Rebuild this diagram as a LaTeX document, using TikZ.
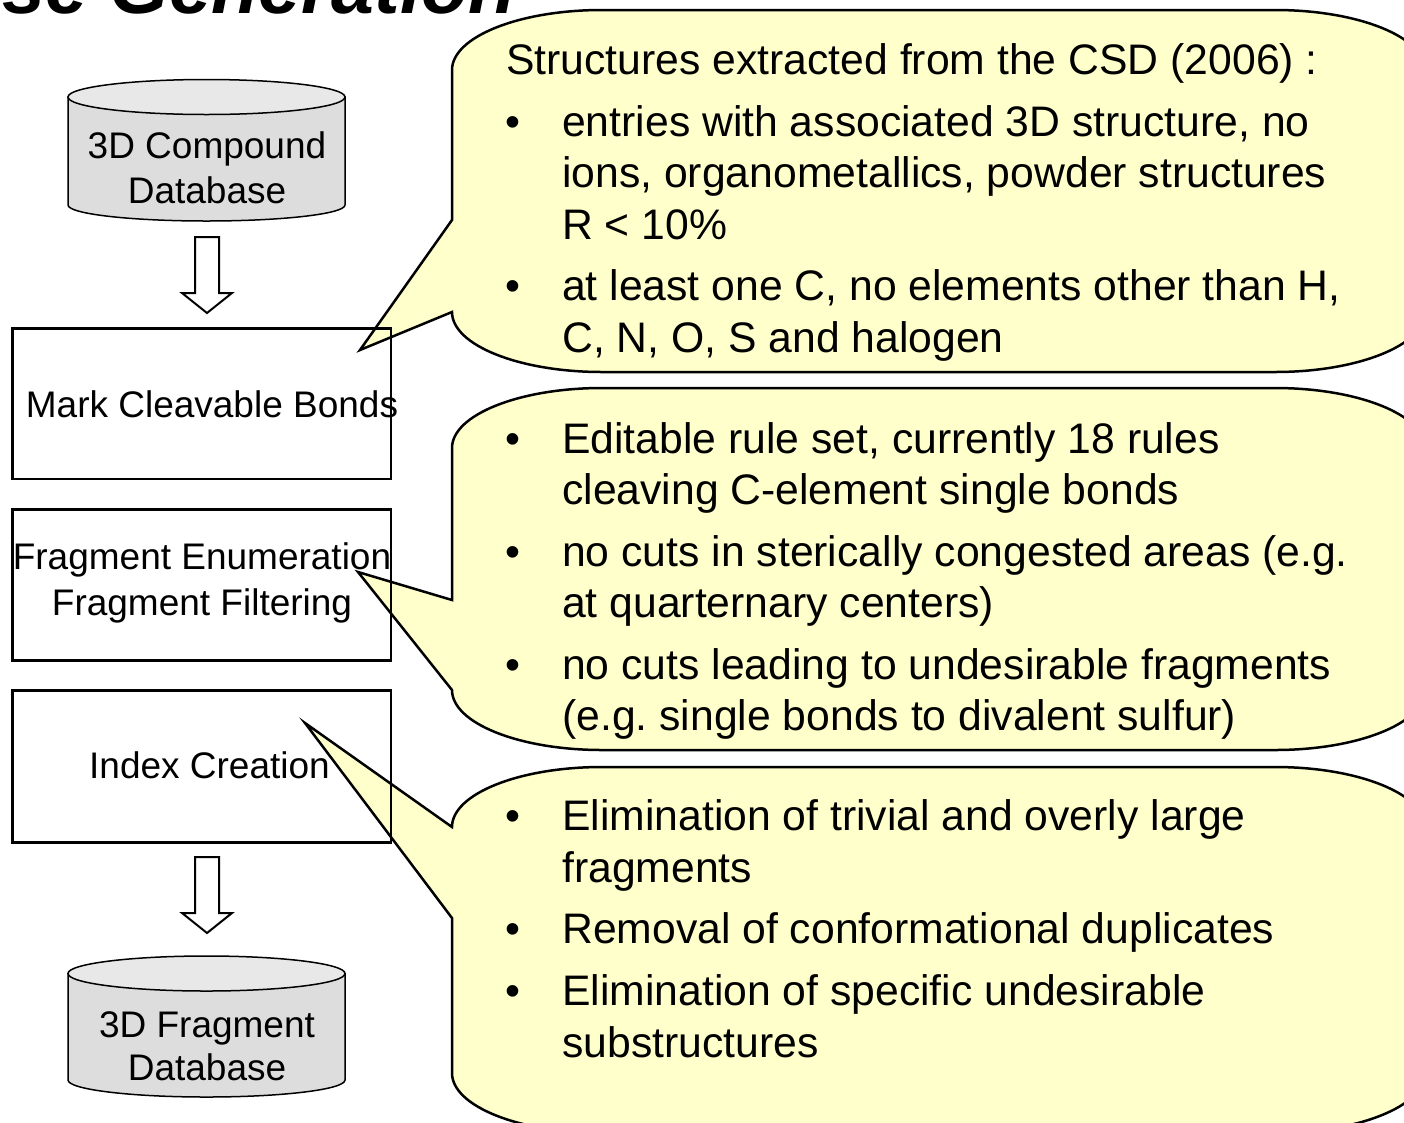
\documentclass[tikz,border=0pt]{standalone}
\usepackage{fontspec}
\setmainfont{Liberation Sans}
\frenchspacing
\definecolor{callfill}{HTML}{FFFFCC}
\definecolor{cylbody}{HTML}{DDDDDD}
\definecolor{cyltop}{HTML}{E8E8E8}
\begin{document}
\begin{tikzpicture}[x=1pt,y=-1pt,
  callout/.style={draw=black, fill=callfill, line width=2.5pt, line join=miter},
  procbox/.style={draw=black, line width=2.5pt, inner sep=0pt},
  cyl/.style={draw=black, line width=1.5pt},
  blockarrow/.style={draw=black, fill=white, line width=2pt, line join=miter},
  lefttext/.style={font=\fontsize{37}{44}\selectfont, anchor=base, inner sep=0pt},
  calltext/.style={font=\fontsize{42.7}{51.5}\selectfont, anchor=base west, inner sep=0pt},
  bulletmark/.style={font=\fontsize{42.7}{51.5}\selectfont, anchor=base, inner sep=0pt},
]
\useasboundingbox (0,0) rectangle (1404,1122);

% title (cut off at the top, as in the reference)
\node[font=\fontsize{77}{90}\selectfont\bfseries\itshape, anchor=base west, inner sep=0pt] (title) at (2,13) {se Generation};

% callouts
\path[callout] (452,70) arc[start angle=180,end angle=270,x radius=150,y radius=60]
  -- (1275,10) arc[start angle=270,end angle=360,x radius=150,y radius=60]
  -- (1425,312) arc[start angle=0,end angle=90,x radius=150,y radius=60]
  -- (602,372) arc[start angle=90,end angle=180,x radius=150,y radius=60]
  -- (360,350) -- (452,220) -- cycle;

\path[callout] (452,448) arc[start angle=180,end angle=270,x radius=150,y radius=60]
  -- (1275,388) arc[start angle=270,end angle=360,x radius=150,y radius=60]
  -- (1425,690) arc[start angle=0,end angle=90,x radius=150,y radius=60]
  -- (602,750) arc[start angle=90,end angle=180,x radius=150,y radius=60]
  -- (358,572) -- (452,600) -- cycle;

\path[callout] (452,827) arc[start angle=180,end angle=270,x radius=150,y radius=60]
  -- (1275,767) arc[start angle=270,end angle=360,x radius=150,y radius=60]
  -- (1425,1073) arc[start angle=0,end angle=90,x radius=150,y radius=60]
  -- (602,1133) arc[start angle=90,end angle=180,x radius=150,y radius=60]
  -- (452,918) -- (305,723) -- cycle;

% cylinders
\path[cyl, fill=cylbody] (68,97) -- (68,205) arc[start angle=180,end angle=0,x radius=138.5,y radius=16] -- (345,97) -- cycle;
\path[cyl, fill=cyltop] (206.5,97) ellipse[x radius=138.5, y radius=17.5];

\path[cyl, fill=cylbody] (68,973.5) -- (68,1080) arc[start angle=180,end angle=0,x radius=138.5,y radius=17] -- (345,973.5) -- cycle;
\path[cyl, fill=cyltop] (206.5,973.5) ellipse[x radius=138.5, y radius=17.5];

% block arrows
\path[blockarrow] (195,237) -- (219,237) -- (219,293) -- (232,293) -- (207,313) -- (182,293) -- (195,293) -- cycle;
\path[blockarrow] (195,857) -- (219,857) -- (219,913) -- (232,913) -- (207,933) -- (182,913) -- (195,913) -- cycle;

% process boxes
\node[procbox, minimum width=378.5pt, minimum height=150.5pt] (mark) at (201.75,403.75) {};
\node[procbox, minimum width=378.5pt, minimum height=151pt] (frag) at (201.75,585) {};
\node[procbox, minimum width=378.5pt, minimum height=152pt] (index) at (201.75,766.5) {};

% left texts
\node[lefttext] (db1a) at (207,158) {3D Compound};
\node[lefttext] (db1b) at (207,203) {Database};
\node[lefttext] (markt) at (212,417) {Mark Cleavable Bonds};
\node[lefttext] (fraga) at (202,569) {Fragment Enumeration};
\node[lefttext] (fragb) at (202,615) {Fragment Filtering};
\node[lefttext] (indext) at (209.5,778) {Index Creation};
\node[lefttext] (db2a) at (207,1037) {3D Fragment};
\node[lefttext] (db2b) at (207,1080) {Database};

% callout 1 text
\node[calltext] (c1a) at (506,74) {Structures extracted from the CSD (2006) :};
\node[bulletmark] (b1a) at (513,136) {•};
\node[calltext] (c1b) at (562,136) {entries with associated 3D structure, no};
\node[calltext] (c1c) at (562,187.5) {ions, organometallics, powder structures};
\node[calltext] (c1d) at (562,239) {R < 10\%};
\node[bulletmark] (b1b) at (513,300) {•};
\node[calltext] (c1e) at (562,300) {at least one C, no elements other than H,};
\node[calltext] (c1f) at (562,352) {C, N, O, S and halogen};

% callout 2 text
\node[bulletmark] (b2a) at (513,453) {•};
\node[calltext] (c2a) at (562,453) {Editable rule set, currently 18 rules};
\node[calltext] (c2b) at (562,504) {cleaving C-element single bonds};
\node[bulletmark] (b2b) at (513,566) {•};
\node[calltext] (c2c) at (562,566) {no cuts in sterically congested areas (e.g.};
\node[calltext] (c2d) at (562,617) {at quarternary centers)};
\node[bulletmark] (b2c) at (513,679) {•};
\node[calltext] (c2e) at (562,679) {no cuts leading to undesirable fragments};
\node[calltext] (c2f) at (562,730) {(e.g. single bonds to divalent sulfur)};

% callout 3 text
\node[bulletmark] (b3a) at (513,830) {•};
\node[calltext] (c3a) at (562,830) {Elimination of trivial and overly large};
\node[calltext] (c3b) at (562,882) {fragments};
\node[bulletmark] (b3b) at (513,943) {•};
\node[calltext] (c3c) at (562,943) {Removal of conformational duplicates};
\node[bulletmark] (b3c) at (513,1005) {•};
\node[calltext] (c3d) at (562,1005) {Elimination of specific undesirable};
\node[calltext] (c3e) at (562,1057) {substructures};
\end{tikzpicture}
\end{document}
